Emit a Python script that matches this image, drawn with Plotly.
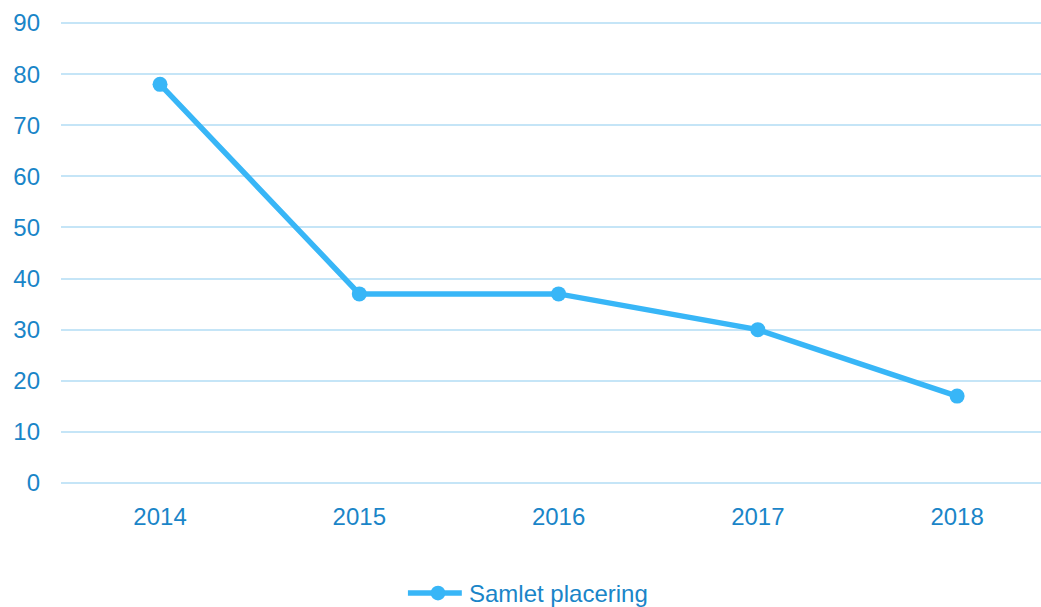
import plotly.graph_objects as go

years = ["2014", "2015", "2016", "2017", "2018"]
values = [78, 37, 37, 30, 17]
series_name = "Samlet placering"

line_color = "#38B6F7"
text_color = "#1A85C8"
grid_color = "#C5E5F7"

fig = go.Figure()
fig.add_trace(go.Scatter(
    x=list(range(len(years))), y=values, name=series_name,
    mode="lines+markers",
    line=dict(color=line_color, width=5.5),
    marker=dict(color=line_color, size=15),
    showlegend=False,
))

# custom legend (long line with centred marker, as in the reference)
ly = -0.236
fig.add_shape(type="line", xref="paper", yref="paper", x0=0.354, x1=0.409, y0=ly, y1=ly,
              line=dict(color=line_color, width=5.5))
fig.add_shape(type="circle", xref="paper", yref="paper",
              x0=0.3847 - 0.0075, x1=0.3847 + 0.0075, y0=ly - 0.0159, y1=ly + 0.0159,
              fillcolor=line_color, line=dict(width=0))
fig.add_annotation(xref="paper", yref="paper", x=0.414, y=ly, xanchor="left", yanchor="middle",
                   text=series_name, showarrow=False, font=dict(size=24, color=text_color))

fig.update_layout(
    width=1041, height=607,
    margin=dict(l=61, r=0, t=22, b=123, autoexpand=False),
    paper_bgcolor="white", plot_bgcolor="white",
    font=dict(family="Liberation Sans, Arial", size=24, color=text_color),
    showlegend=False,
    xaxis=dict(
        tickmode="array", tickvals=list(range(len(years))), ticktext=years,
        range=[-0.497, 4.421], showgrid=False, zeroline=False, showline=False,
        ticks="", ticklabelstandoff=16, automargin=False,
    ),
    yaxis=dict(
        range=[-0.2, 90.2], tickvals=list(range(0, 91, 10)), showgrid=True, gridcolor=grid_color, gridwidth=2,
        zeroline=False, showline=False, ticks="", ticklabelstandoff=20, automargin=False,
    ),
)

fig.write_html("out.html", config={"displayModeBar": False},
               post_script="document.body.style.margin='0';document.body.style.overflow='hidden';")
